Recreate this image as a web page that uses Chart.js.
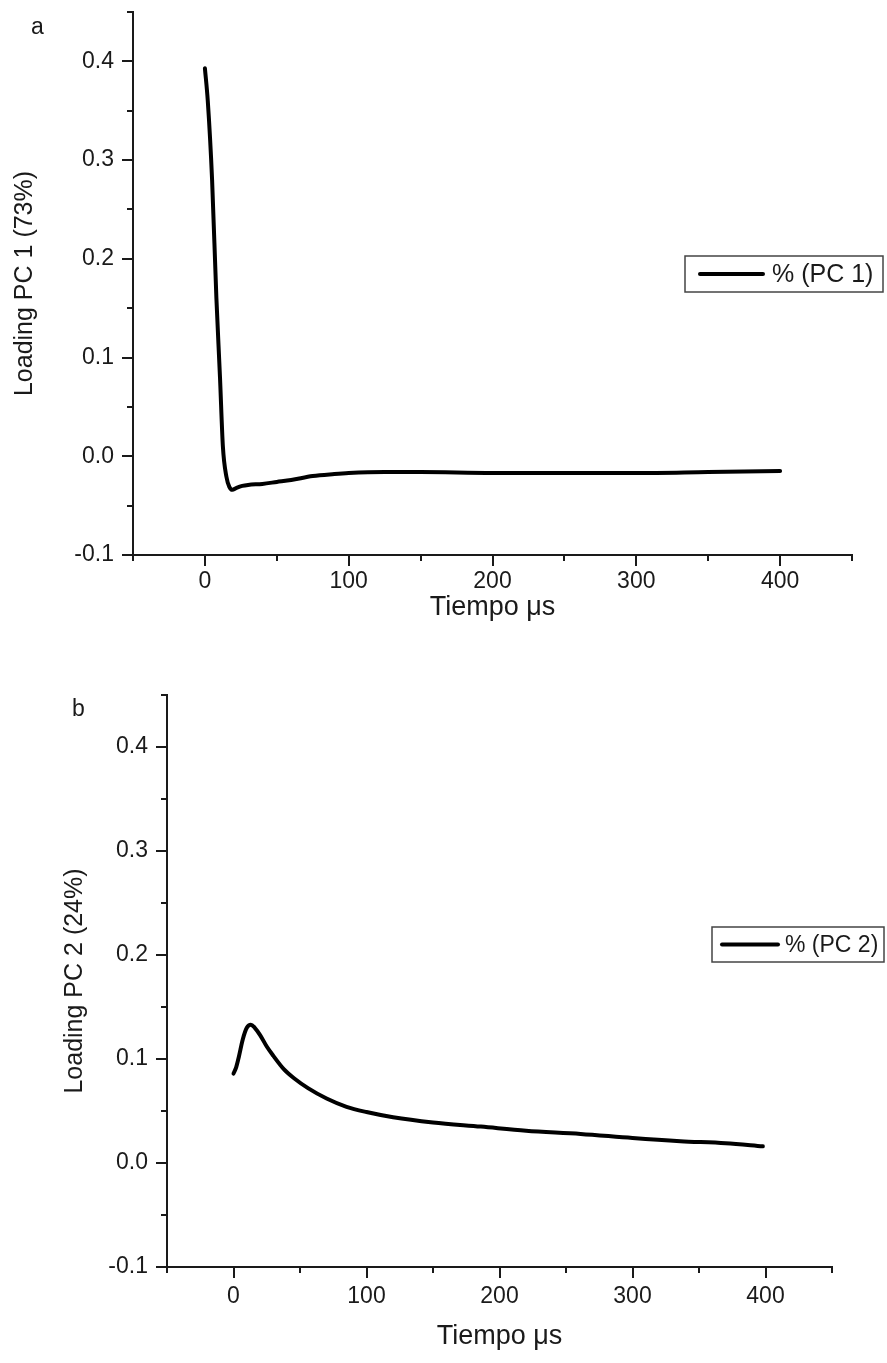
<!DOCTYPE html>
<html>
<head>
<meta charset="utf-8">
<script src="https://cdn.jsdelivr.net/npm/chart.js@4/dist/chart.umd.min.js"></script>
<style>
  html, body { margin: 0; padding: 0; background: #fff; }
  .panel { position: absolute; left: 0; width: 887px; }
  #panelA { top: 0; height: 650px; }
  #panelB { top: 650px; height: 713px; }
</style>
</head>
<body>
<div class="panel" id="panelA"><canvas id="chartA"></canvas></div>
<div class="panel" id="panelB"><canvas id="chartB"></canvas></div>
<script>
// values (time in µs)
const timeA = [0, 2, 5, 8, 10.5, 12.5, 15, 17, 19, 22, 26, 30, 40, 50, 60, 75, 90, 100, 125, 150, 200, 250, 300, 350, 400];
const loadingPC1 = [0.393, 0.36, 0.28, 0.16, 0.08, 0.01, -0.021, -0.031, -0.034, -0.032, -0.030, -0.029, -0.028, -0.026, -0.024, -0.020, -0.018, -0.017, -0.016, -0.016, -0.017, -0.017, -0.017, -0.016, -0.015];

const timeB = [0, 2, 4, 7, 10, 13, 16, 20, 25, 30, 38, 46, 56, 70, 85, 100, 120, 150, 186, 220, 261, 300, 336, 370, 398];
const loadingPC2 = [0.086, 0.092, 0.102, 0.119, 0.130, 0.133, 0.130, 0.123, 0.112, 0.103, 0.090, 0.081, 0.072, 0.062, 0.054, 0.049, 0.044, 0.039, 0.035, 0.031, 0.028, 0.024, 0.021, 0.019, 0.016];

const xTickLabels = [0, 100, 200, 300, 400];
const yTickLabels = [-0.1, 0.0, 0.1, 0.2, 0.3, 0.4];

const INK = '#1a1a1a';
const FONT = "'Liberation Sans', Arial, sans-serif";

function isMajorX(v) { return xTickLabels.some(t => Math.abs(t - v) < 1e-6); }
function isMajorY(v) { return yTickLabels.some(t => Math.abs(t - v) < 1e-6); }

// outward tick marks, long on labelled ticks, short in between
const tickMarks = {
    id: 'tickMarks',
    afterDraw(chart) {
        const ctx = chart.ctx;
        const xs = chart.scales.x, ys = chart.scales.y;
        ctx.save();
        ctx.strokeStyle = INK;
        ctx.lineWidth = 2;
        ctx.beginPath();
        xs.ticks.forEach(t => {
            const px = Math.round(xs.getPixelForValue(t.value));
            const len = isMajorX(t.value) ? 11 : 6;
            ctx.moveTo(px, xs.top);
            ctx.lineTo(px, xs.top + len);
        });
        ys.ticks.forEach(t => {
            const py = Math.round(ys.getPixelForValue(t.value));
            const len = isMajorY(t.value) ? 11 : 6;
            ctx.moveTo(ys.right, py);
            ctx.lineTo(ys.right - len, py);
        });
        ctx.stroke();
        ctx.restore();
    }
};

// boxed legend + panel letter
const boxLegend = {
    id: 'boxLegend',
    afterDraw(chart, args, opts) {
        const ctx = chart.ctx;
        const ds = chart.data.datasets[0];
        ctx.save();
        ctx.fillStyle = '#fff';
        ctx.fillRect(opts.x, opts.y, opts.w, opts.h);
        ctx.strokeStyle = '#444';
        ctx.lineWidth = 1.5;
        ctx.strokeRect(opts.x, opts.y, opts.w, opts.h);
        const my = opts.y + opts.h / 2;
        ctx.strokeStyle = ds.borderColor;
        ctx.lineWidth = 4;
        ctx.lineCap = 'round';
        ctx.beginPath();
        ctx.moveTo(opts.x + opts.l0, my);
        ctx.lineTo(opts.x + opts.l1, my);
        ctx.stroke();
        ctx.fillStyle = INK;
        ctx.font = opts.fs + 'px ' + FONT;
        ctx.textBaseline = 'middle';
        ctx.fillText(ds.label, opts.x + opts.tx, my + 1);
        ctx.font = '23px ' + FONT;
        ctx.fillText(opts.letter, opts.lx, opts.ly);
        ctx.restore();
    }
};

function makeConfig(times, values, p) {
    return {
        type: 'line',
        data: {
            datasets: [{
                label: p.label,
                data: times.map((t, i) => ({ x: t, y: values[i] })),
                borderColor: '#000',
                borderWidth: 4,
                pointRadius: 0,
                cubicInterpolationMode: 'monotone',
                borderCapStyle: 'round',
                borderJoinStyle: 'round',
                fill: false
            }]
        },
        options: {
            responsive: true,
            maintainAspectRatio: false,
            animation: false,
            layout: { padding: { left: 0, top: p.top, right: p.right, bottom: 0 } },
            plugins: {
                legend: { display: false },
                tooltip: { enabled: false },
                boxLegend: p.legend
            },
            scales: {
                x: {
                    type: 'linear',
                    min: -50, max: 450,
                    afterFit: s => { s.height = p.xHeight; s.paddingLeft = 0; s.paddingRight = 0; },
                    grid: { drawOnChartArea: false, drawTicks: false },
                    border: { display: true, color: INK, width: 2 },
                    ticks: {
                        stepSize: 50,
                        padding: p.xTickPad,
                        maxRotation: 0,
                        autoSkip: false,
                        color: INK,
                        font: { family: FONT, size: 23 },
                        callback: v => isMajorX(v) ? String(Math.round(v)) : ''
                    },
                    title: {
                        display: true,
                        text: 'Tiempo μs',
                        color: INK,
                        font: { family: FONT, size: 27 },
                        padding: { top: 0, bottom: p.xTitlePad }
                    }
                },
                y: {
                    type: 'linear',
                    min: -0.1, max: 0.45,
                    afterFit: s => { s.width = p.yWidth; s.paddingTop = 0; s.paddingBottom = 0; },
                    grid: { drawOnChartArea: false, drawTicks: false },
                    border: { display: true, color: INK, width: 2 },
                    ticks: {
                        stepSize: 0.05,
                        padding: 19,
                        autoSkip: false,
                        color: INK,
                        font: { family: FONT, size: 23 },
                        callback: v => isMajorY(v) ? (Math.round(v * 10) / 10).toFixed(1) : ''
                    },
                    title: {
                        display: true,
                        text: p.yTitle,
                        color: INK,
                        font: { family: FONT, size: 25 },
                        padding: { top: p.yTitlePad, bottom: 0 }
                    }
                }
            }
        },
        plugins: [tickMarks, boxLegend]
    };
}

new Chart(document.getElementById('chartA'), makeConfig(timeA, loadingPC1, {
    label: '% (PC 1)',
    yTitle: 'Loading PC 1 (73%)',
    top: 12, right: 35,
    xHeight: 95, yWidth: 133,
    xTickPad: 13, xTitlePad: 26, yTitlePad: 10,
    legend: { x: 685, y: 256, w: 198, h: 36, l0: 15, l1: 78, tx: 87, fs: 25, letter: 'a', lx: 31, ly: 28 }
}));

new Chart(document.getElementById('chartB'), makeConfig(timeB, loadingPC2, {
    label: '% (PC 2)',
    yTitle: 'Loading PC 2 (24%)',
    top: 45, right: 55,
    xHeight: 96, yWidth: 167,
    xTickPad: 16, xTitlePad: 10, yTitlePad: 60,
    legend: { x: 712, y: 277, w: 172, h: 35, l0: 10, l1: 66, tx: 73, fs: 23, letter: 'b', lx: 72, ly: 60 }
}));
</script>
</body>
</html>
